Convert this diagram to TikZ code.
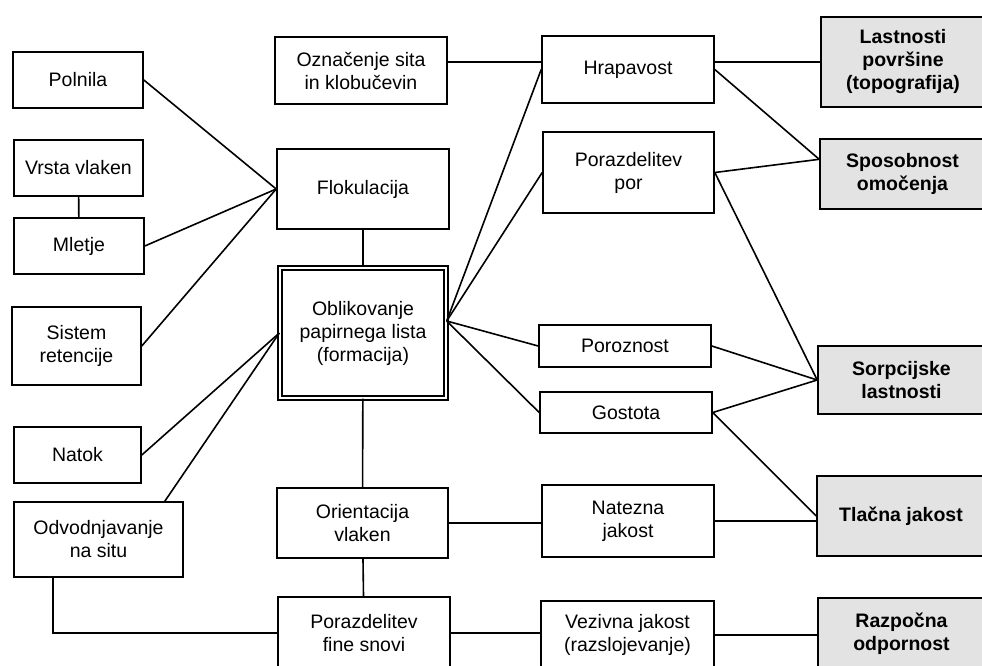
\documentclass[tikz,border=0pt]{standalone}
\usepackage{fontspec}
\setmainfont{Liberation Sans}
\begin{document}
\begin{tikzpicture}[x=1pt, y=-1pt, line width=1.6pt,
  every node/.style = {shape=rectangle,
    draw, fill=white, align=center, inner sep=0pt,
    font=\fontsize{19.5}{23}\selectfont},
  wh/.style 2 args = {minimum width=#1pt, minimum height=#2pt},
  prop/.style = {fill=gray!22, font=\fontsize{19.5}{23}\selectfont\bfseries},
  core/.style = {double, double distance=2.6pt, line width=1.4pt}]
\useasboundingbox (0,0) rectangle (982,666);
\clip (0,0) rectangle (982,666);
% left column
\node[wh={130}{56}] (pol) at (78,80) {Polnila};
\node[wh={129}{56}] (vrs) at (78.5,168) {Vrsta vlaken};
\node[wh={130}{56}] (mle) at (79,246) {Mletje};
\node[wh={129}{78}] (sis) at (76.5,346) {Sistem\\retencije};
\node[wh={127}{56}] (nat) at (77.5,455) {Natok};
\node[wh={169}{75}] (odv) at (98.5,539.5) {Odvodnjavanje\\na situ};
% middle column
\node[wh={172}{67}] (ozn) at (361,70.5) {Označenje sita\\in klobučevin};
\node[wh={172}{80}] (flo) at (363,189) {Flokulacija};
\node[core, wh={166}{130}] (obl) at (363,333) {Oblikovanje\\papirnega lista\\(formacija)};
\node[wh={171}{70}] (ori) at (362.5,523) {Orientacija\\vlaken};
\node[wh={172}{72}] (pfs) at (364,633) {Porazdelitev\\fine snovi};
% second column
\node[wh={172}{67}] (hra) at (628,69.5) {Hrapavost};
\node[wh={171}{81}] (ppor) at (628.5,172.5) {Porazdelitev\\por};
\node[wh={172}{42}] (por) at (625,346) {Poroznost};
\node[wh={172}{41}] (gos) at (626,412.5) {Gostota};
\node[wh={172}{72}] (nate) at (628,521) {Natezna\\jakost};
\node[wh={173}{68}] (vez) at (627.5,635) {Vezivna jakost\\(razslojevanje)};
% properties
\node[prop, wh={164}{90}] (las) at (903,62) {Lastnosti\\površine\\(topografija)};
\node[prop, wh={165}{70}] (spo) at (902.5,174) {Sposobnost\\omočenja};
\node[prop, wh={167}{68}] (sor) at (901.5,380) {Sorpcijske\\lastnosti};
\node[prop, wh={168}{80}] (tla) at (901,516) {Tlačna jakost};
\node[prop, wh={167}{72}] (raz) at (901.5,634) {Razpočna\\odpornost};

\draw (pol.east) -- (flo.west);
\draw (mle.east) -- (flo.west);
\draw (sis.east) -- (flo.west);
\draw (vrs) -- (mle);
\draw (nat.east) -- (obl.west);
\draw (odv.30) -- (obl.west);
\draw (odv.220) |- (pfs.west);
\draw (flo) -- (obl);
\draw (obl) -- (ori);
\draw (ori) -- (pfs);
\draw (ozn.east |- las.west) -- (hra.west |- las.west);
\draw (hra.east |- las.west) -- (las.west);
\coordinate (oblr) at ([yshift=12pt]obl.east);
\foreach \n in {hra, ppor, por, gos}
  \draw (oblr) -- (\n.west);
\draw (ori.east) -- (ori.east -| nate.west);
\draw (pfs.east) -- (pfs.east -| vez.west);
\draw (hra.east) -- (spo.170);
\draw (ppor.east) -- (spo.170);
\draw (ppor.east) -- (sor.west);
\draw (por.east) -- (sor.west);
\draw (gos.east) -- (sor.west);
\draw (gos.east) -- (tla.west);
\draw (nate.east) -- (nate.east -| tla.west);
\draw (vez.east) -- (vez.east -| raz.west);
\end{tikzpicture}
\end{document}
